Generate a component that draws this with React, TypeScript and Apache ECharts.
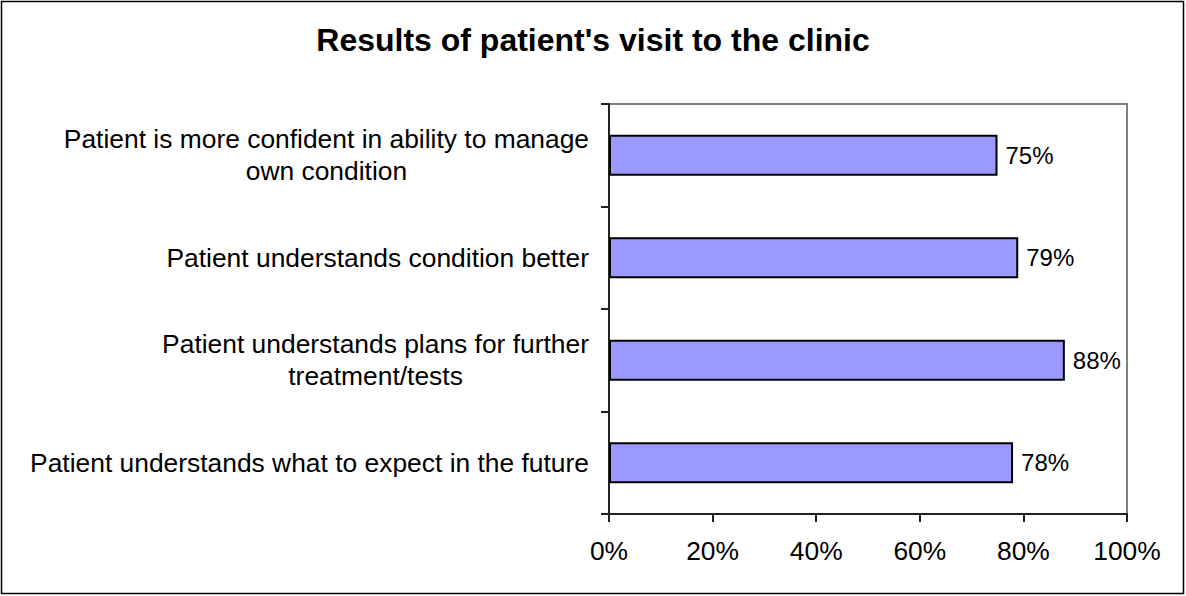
import React, { useEffect, useRef } from 'react';
import * as echarts from 'echarts';

const titleText = "Results of patient's visit to the clinic";
const categories = [
  'Patient is more confident in ability to manage\nown condition',
  'Patient understands condition better',
  'Patient understands plans for further\ntreatment/tests',
  'Patient understands what to expect in the future',
];
const values = [75, 79, 88, 78];
const xMin = 0;
const xMax = 100;
const xStep = 20;

const FONT = "'Liberation Sans', Arial, sans-serif";

export default function App() {
  const ref = useRef<HTMLDivElement>(null);

  useEffect(() => {
    document.body.style.margin = '0';
    if (!ref.current) return;
    const chart = echarts.init(ref.current, null, { renderer: 'svg' });
    chart.setOption({
      animation: false,
      backgroundColor: '#ffffff',
      textStyle: { fontFamily: FONT, color: '#000' },
      title: {
        text: titleText,
        left: 'center',
        top: 24,
        padding: 0,
        textStyle: { fontFamily: FONT, fontSize: 32, fontWeight: 'bold', color: '#000' },
      },
      graphic: [
        {
          type: 'rect',
          shape: { x: 1.5, y: 1.5, width: 1182, height: 592 },
          style: { fill: 'none', stroke: '#000', lineWidth: 1.5 },
          silent: true,
          z: 100,
        },
      ],
      grid: {
        left: 609,
        top: 104,
        width: 518,
        height: 410,
        show: true,
        borderColor: '#808080',
        borderWidth: 2,
        backgroundColor: 'transparent',
        containLabel: false,
      },
      xAxis: {
        type: 'value',
        min: xMin,
        max: xMax,
        interval: xStep,
        axisLine: { show: true, lineStyle: { color: '#222', width: 2 } },
        axisTick: { show: true, length: 8, lineStyle: { color: '#222', width: 2 } },
        splitLine: { show: false },
        axisLabel: {
          formatter: '{value}%',
          fontSize: 26.4,
          color: '#000',
          fontFamily: FONT,
          margin: 24,
        },
      },
      yAxis: {
        type: 'category',
        data: categories,
        inverse: true,
        axisLine: { show: true, lineStyle: { color: '#222', width: 2 } },
        axisTick: { show: true, length: 8, lineStyle: { color: '#222', width: 2 } },
        splitLine: { show: false },
        axisLabel: {
          interval: 0,
          margin: 20,
          color: '#000',
          fontSize: 26.4,
          fontFamily: FONT,
          formatter: (v: string) =>
            v
              .split('\n')
              .map((l) => `{c|${l}}`)
              .join('\n'),
          rich: {
            c: {
              align: 'center',
              fontSize: 26.4,
              lineHeight: 32,
              color: '#000',
              fontFamily: FONT,
            },
          },
        },
      },
      series: [
        {
          type: 'bar',
          data: values,
          barWidth: '40%',
          itemStyle: { color: '#9999FF', borderColor: '#000', borderWidth: 2 },
          label: {
            show: true,
            position: 'right',
            distance: 8,
            formatter: '{c}%',
            fontSize: 24,
            color: '#000',
            fontFamily: FONT,
          },
        },
      ],
    });
    return () => chart.dispose();
  }, []);

  return <div ref={ref} style={{ width: 1186, height: 596 }} />;
}
